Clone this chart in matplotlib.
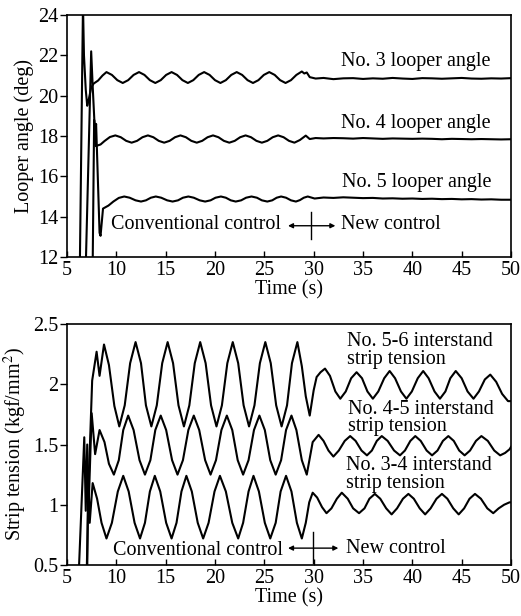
import numpy as np
import matplotlib
matplotlib.use("Agg")
import matplotlib.pyplot as plt

plt.rcParams['font.family'] = ['Liberation Serif', 'DejaVu Serif']
plt.rcParams['mathtext.fontset'] = 'stix'

# looper angles (t [s], deg)
no3_angle = [(6.3, 11.5), (6.62, 24.5), (6.72, 22.0), (6.9, 20.3), (7.05, 19.5), (7.2, 19.8), (7.45, 20.4),
             (7.7, 20.6), (8.15, 20.75), (8.6, 21.0), (9.0, 21.17), (9.55, 21.03), (10.1, 20.77), (10.65, 20.63),
             (11.2, 20.77), (11.75, 21.03), (12.3, 21.17), (12.85, 21.03), (13.4, 20.77), (13.95, 20.63),
             (14.5, 20.77), (15.05, 21.03), (15.6, 21.17), (16.15, 21.03), (16.7, 20.77), (17.25, 20.63),
             (17.8, 20.77), (18.35, 21.03), (18.9, 21.17), (19.45, 21.03), (20.0, 20.77), (20.55, 20.63),
             (21.1, 20.77), (21.65, 21.03), (22.2, 21.17), (22.75, 21.03), (23.3, 20.77), (23.85, 20.63),
             (24.4, 20.77), (24.95, 21.03), (25.5, 21.17), (26.05, 21.03), (26.6, 20.77), (27.15, 20.63),
             (27.7, 20.77), (28.25, 21.03), (28.8, 21.2), (29.05, 21.1), (29.3, 21.15), (29.6, 20.92),
             (30.2, 20.85), (31, 20.88), (32, 20.82), (33, 20.86), (34, 20.87), (35, 20.83), (36, 20.86),
             (37, 20.84), (38, 20.88), (39, 20.85), (40, 20.83), (41, 20.87), (42, 20.86), (43, 20.84),
             (44, 20.86), (45, 20.88), (46, 20.85), (47, 20.84), (48, 20.86), (49, 20.85), (50, 20.87)]

no4_angle = [(6.9, 11.5), (7.45, 22.2), (7.6, 20.5), (7.9, 17.5), (8.4, 17.58), (8.8, 17.75), (9.35, 17.95),
             (9.9, 18.03), (10.45, 17.94), (11.0, 17.76), (11.55, 17.67), (12.1, 17.76), (12.65, 17.94),
             (13.2, 18.03), (13.75, 17.94), (14.3, 17.76), (14.85, 17.67), (15.4, 17.76), (15.95, 17.94),
             (16.5, 18.03), (17.05, 17.94), (17.6, 17.76), (18.15, 17.67), (18.7, 17.76), (19.25, 17.94),
             (19.8, 18.03), (20.35, 17.94), (20.9, 17.76), (21.45, 17.67), (22.0, 17.76), (22.55, 17.94),
             (23.1, 18.03), (23.65, 17.94), (24.2, 17.76), (24.75, 17.67), (25.3, 17.76), (25.85, 17.94),
             (26.4, 18.03), (26.95, 17.94), (27.5, 17.76), (28.05, 17.67), (28.6, 17.8), (29.2, 18.02),
             (29.6, 17.85), (30.2, 17.9), (31, 17.88), (32, 17.9), (33, 17.89), (34, 17.87), (35, 17.9),
             (36, 17.88), (37, 17.86), (38, 17.88), (39, 17.87), (40, 17.86), (41, 17.87), (42, 17.86),
             (43, 17.84), (44, 17.86), (45, 17.85), (46, 17.84), (47, 17.85), (48, 17.84), (49, 17.83), (50, 17.84)]

no5_angle = [(7.6, 11.5), (7.75, 18.8), (7.85, 18.2), (7.95, 18.6), (8.3, 13.2), (8.4, 13.05), (8.65, 14.4),
             (9.2, 14.55), (9.7, 14.75), (10.25, 14.93), (10.8, 15.0), (11.35, 14.94), (11.95, 14.81),
             (12.5, 14.75), (13.0, 14.81), (13.5, 14.94), (14.0, 15.0), (14.55, 14.94), (15.15, 14.81),
             (15.7, 14.75), (16.25, 14.81), (16.75, 14.94), (17.3, 15.0), (17.85, 14.94), (18.45, 14.81),
             (19.0, 14.75), (19.55, 14.81), (20.05, 14.94), (20.6, 15.0), (21.1, 14.94), (21.6, 14.81),
             (22.1, 14.75), (22.65, 14.81), (23.15, 14.94), (23.7, 15.0), (24.25, 14.94), (24.75, 14.81),
             (25.3, 14.75), (25.8, 14.81), (26.25, 14.94), (26.7, 15.0), (27.2, 14.94), (27.7, 14.81),
             (28.2, 14.75), (28.6, 14.82), (29.0, 14.94), (29.4, 15.0), (30.1, 14.9), (31, 14.95), (32, 14.93),
             (33, 14.96), (34, 14.94), (35, 14.92), (36, 14.93), (37, 14.9), (38, 14.91), (39, 14.89),
             (40, 14.9), (41, 14.88), (42, 14.89), (43, 14.87), (44, 14.88), (45, 14.86), (46, 14.87),
             (47, 14.85), (48, 14.86), (49, 14.84), (50, 14.84)]

# interstand strip tension (t [s], kgf/mm2)
t56 = [(7.0, 0.45), (7.2, 1.2), (7.55, 2.03), (8.0, 2.27), (8.3, 2.07), (8.75, 2.33), (9.25, 2.16), (9.8, 1.82),
       (10.3, 1.65), (10.85, 1.825), (11.4, 2.175), (11.95, 2.35), (12.5, 2.175), (13.0, 1.825), (13.55, 1.65),
       (14.1, 1.825), (14.65, 2.175), (15.2, 2.35), (15.75, 2.175), (16.3, 1.825), (16.85, 1.65), (17.4, 1.825),
       (17.95, 2.175), (18.5, 2.35), (19.05, 2.175), (19.6, 1.825), (20.15, 1.65), (20.7, 1.825), (21.25, 2.175),
       (21.8, 2.35), (22.35, 2.175), (22.9, 1.825), (23.45, 1.65), (24.0, 1.825), (24.55, 2.175), (25.1, 2.35),
       (25.65, 2.175), (26.2, 1.825), (26.75, 1.65), (27.3, 1.825), (27.8, 2.175), (28.35, 2.35), (28.8, 2.15),
       (29.2, 1.9), (29.6, 1.74), (30.0, 1.95), (30.3, 2.06), (30.7, 2.1), (31.15, 2.13), (31.65, 2.07),
       (32.2, 1.94), (32.7, 1.88), (33.25, 1.94), (33.8, 2.05), (34.35, 2.1), (34.9, 2.05), (35.45, 1.94),
       (36.0, 1.88), (36.55, 1.94), (37.15, 2.05), (37.7, 2.11), (38.25, 2.05), (38.85, 1.94), (39.4, 1.88),
       (39.95, 1.94), (40.55, 2.05), (41.1, 2.11), (41.65, 2.05), (42.25, 1.94), (42.8, 1.88), (43.35, 1.94),
       (43.85, 2.05), (44.4, 2.11), (45.0, 2.05), (45.6, 1.94), (46.2, 1.88), (46.75, 1.94), (47.35, 2.04),
       (47.9, 2.08), (48.5, 2.02), (49.1, 1.92), (49.7, 1.86), (50, 1.86)]

t45 = [(6.2, 0.45), (6.75, 1.56), (6.9, 0.95), (7.05, 1.5), (7.2, 1.0), (7.5, 1.76), (7.85, 1.42), (8.3, 1.62),
       (8.8, 1.52), (9.25, 1.34), (9.75, 1.25), (10.25, 1.37), (10.7, 1.62), (11.2, 1.74), (11.75, 1.62),
       (12.35, 1.37), (12.9, 1.25), (13.45, 1.37), (13.95, 1.62), (14.5, 1.74), (15.05, 1.62), (15.65, 1.37),
       (16.2, 1.25), (16.75, 1.37), (17.3, 1.62), (17.85, 1.74), (18.4, 1.62), (19.0, 1.37), (19.55, 1.25),
       (20.1, 1.37), (20.65, 1.62), (21.2, 1.74), (21.75, 1.62), (22.3, 1.37), (22.85, 1.25), (23.4, 1.37),
       (23.95, 1.62), (24.5, 1.74), (25.05, 1.62), (25.6, 1.37), (26.15, 1.25), (26.7, 1.37), (27.2, 1.62),
       (27.75, 1.74), (28.25, 1.62), (28.8, 1.37), (29.3, 1.25), (29.9, 1.52), (30.5, 1.58), (31.0, 1.53),
       (31.5, 1.45), (32.0, 1.40), (32.55, 1.45), (33.15, 1.53), (33.7, 1.57), (34.25, 1.53), (34.85, 1.45),
       (35.4, 1.41), (35.9, 1.45), (36.4, 1.53), (36.9, 1.57), (37.5, 1.53), (38.15, 1.45), (38.75, 1.41),
       (39.25, 1.45), (39.8, 1.53), (40.3, 1.57), (40.85, 1.53), (41.45, 1.45), (42.0, 1.41), (42.55, 1.45),
       (43.1, 1.53), (43.65, 1.57), (44.2, 1.53), (44.75, 1.45), (45.3, 1.41), (45.85, 1.45), (46.45, 1.53),
       (47.0, 1.57), (47.65, 1.53), (48.3, 1.45), (48.9, 1.41), (49.4, 1.43), (49.85, 1.46), (50, 1.48)]

t34 = [(7.05, 0.45), (7.15, 1.3), (7.3, 0.85), (7.6, 1.18), (8.05, 1.05), (8.5, 0.85), (9.0, 0.72), (9.55, 0.85),
       (10.15, 1.11), (10.7, 1.24), (11.25, 1.11), (11.85, 0.85), (12.4, 0.72), (12.9, 0.85), (13.4, 1.11),
       (13.9, 1.24), (14.45, 1.11), (15.05, 0.85), (15.6, 0.72), (16.1, 0.85), (16.6, 1.11), (17.1, 1.24),
       (17.65, 1.11), (18.25, 0.85), (18.8, 0.72), (19.35, 0.85), (19.95, 1.11), (20.5, 1.24), (21.1, 1.11),
       (21.75, 0.85), (22.35, 0.72), (22.85, 0.85), (23.4, 1.11), (23.9, 1.24), (24.45, 1.11), (25.05, 0.85),
       (25.6, 0.72), (26.15, 0.85), (26.65, 1.11), (27.2, 1.24), (27.75, 1.11), (28.3, 0.85), (28.8, 0.72),
       (29.2, 0.85), (29.55, 1.02), (29.9, 1.10), (30.35, 1.06), (30.85, 0.98), (31.3, 0.93), (31.8, 0.97),
       (32.35, 1.05), (32.85, 1.10), (33.45, 1.05), (34.0, 0.97), (34.6, 0.93), (35.15, 0.97), (35.65, 1.05),
       (36.2, 1.09), (36.75, 1.05), (37.35, 0.97), (37.9, 0.92), (38.45, 0.97), (39.05, 1.05), (39.6, 1.09),
       (40.15, 1.05), (40.75, 0.97), (41.3, 0.92), (41.85, 0.97), (42.45, 1.05), (43.0, 1.09), (43.55, 1.05),
       (44.15, 0.97), (44.7, 0.92), (45.25, 0.97), (45.8, 1.05), (46.35, 1.09), (46.95, 1.05), (47.6, 0.97),
       (48.2, 0.93), (48.75, 0.97), (49.3, 1.0), (49.85, 1.02), (50, 1.02)]

angle_ticks = [12, 14, 16, 18, 20, 22, 24]
tension_ticks = [0.5, 1, 1.5, 2, 2.5]
tension_labels = ['0.5', '1', '1.5', '2', '2.5']
time_ticks = [5, 10, 15, 20, 25, 30, 35, 40, 45, 50]

FS = 14.5
fig = plt.figure(figsize=(5.21, 6.16), dpi=100)
ax1 = fig.add_axes([0.1286, 0.5828, 0.8522, 0.3928])
ax2 = fig.add_axes([0.1286, 0.0828, 0.8522, 0.3912])

for d in (no3_angle, no4_angle, no5_angle):
    d = np.array(d)
    ax1.plot(d[:, 0], d[:, 1], color='k', lw=1.5)
for d in (t56, t45, t34):
    d = np.array(d)
    ax2.plot(d[:, 0], d[:, 1], color='k', lw=1.5)

ax1.set_xlim(5, 50)
ax1.set_ylim(12, 24)
ax1.set_yticks(angle_ticks)
ax2.set_xlim(5, 50)
ax2.set_ylim(0.5, 2.5)
ax2.set_yticks(tension_ticks)
ax2.set_yticklabels(tension_labels)

for ax in (ax1, ax2):
    ax.set_xticks(time_ticks)
    ax.tick_params(axis='x', direction='in', length=4, width=1, labelsize=FS, pad=3)
    ax.tick_params(axis='y', direction='out', length=5, width=1, labelsize=FS, pad=1)
    for s in ax.spines.values():
        s.set_linewidth(1.2)
    ax.set_xlabel('Time (s)', fontsize=FS, labelpad=0)

ax1.set_ylabel('Looper angle (deg)', fontsize=FS, labelpad=3)
ax2.set_ylabel('Strip tension (kgf/mm$^2$)', fontsize=FS, labelpad=3)

# top annotations
ax1.text(32.8, 21.68, 'No. 3 looper angle', fontsize=FS, va='center')
ax1.text(32.8, 18.63, 'No. 4 looper angle', fontsize=FS, va='center')
ax1.text(32.9, 15.69, 'No. 5 looper angle', fontsize=FS, va='center')
ax1.text(9.5, 13.6, 'Conventional control', fontsize=FS, va='center')
ax1.text(32.8, 13.6, 'New control', fontsize=FS, va='center')
ax1.annotate('', xy=(32.2, 13.55), xytext=(27.4, 13.55),
             arrowprops=dict(arrowstyle='<|-|>', color='k', lw=1, mutation_scale=7, shrinkA=0, shrinkB=0))
ax1.plot([29.7, 29.7], [12.9, 14.25], color='k', lw=1)

# bottom annotations
ax2.text(33.4, 2.28, 'No. 5-6 interstand\nstrip tension', fontsize=FS, va='center', linespacing=0.9)
ax2.text(33.5, 1.72, 'No. 4-5 interstand\nstrip tension', fontsize=FS, va='center', linespacing=0.9)
ax2.text(33.3, 1.25, 'No. 3-4 interstand\nstrip tension', fontsize=FS, va='center', linespacing=0.9)
ax2.text(9.7, 0.62, 'Conventional control', fontsize=FS, va='center')
ax2.text(33.3, 0.64, 'New control', fontsize=FS, va='center')
ax2.annotate('', xy=(32.5, 0.64), xytext=(27.4, 0.64),
             arrowprops=dict(arrowstyle='<|-|>', color='k', lw=1, mutation_scale=7, shrinkA=0, shrinkB=0))
ax2.plot([29.9, 29.9], [0.52, 0.77], color='k', lw=1)

fig.savefig('out.png', dpi=100)
